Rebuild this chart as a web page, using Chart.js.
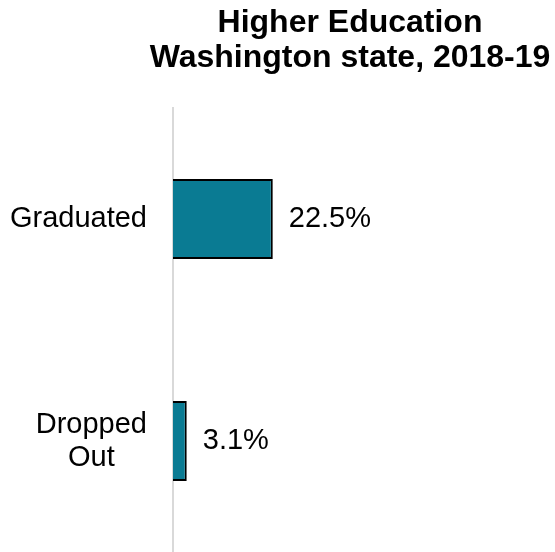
<!DOCTYPE html>
<html>
<head>
<meta charset="utf-8">
<script src="https://cdn.jsdelivr.net/npm/chart.js@4"></script>
<style>
  body { margin: 0; background: #fff; }
  canvas { display: block; }
</style>
</head>
<body>
<canvas id="eduChart" width="555" height="552"></canvas>
<script>
document.addEventListener('DOMContentLoaded', () => {
  // --- Data ---
  const categories = [['Graduated'], ['Dropped', 'Out']];
  const shares = [22.5, 3.1];
  const titleLines = ['Higher Education', 'Washington state, 2018-19'];

  const FONT = '"Liberation Sans", Arial, sans-serif';
  const ctx = document.getElementById('eduChart').getContext('2d');

  // --- Plugins ---
  // two-line bold title, centred over the right part of the canvas
  const titlePlugin = {
    id: 'twoLineTitle',
    afterDraw(chart) {
      const c = chart.ctx;
      c.save();
      c.fillStyle = '#000';
      c.font = 'bold 32px ' + FONT;
      c.textAlign = 'center';
      c.textBaseline = 'alphabetic';
      titleLines.forEach((line, i) => c.fillText(line, 350, 32 + i * 35));
      c.restore();
    }
  };

  // category labels: right-aligned blocks, lines centred within the block
  const categoryLabels = {
    id: 'categoryLabels',
    afterDraw(chart) {
      const c = chart.ctx;
      const yScale = chart.scales.y;
      const right = 147;
      const lineH = 33;
      c.save();
      c.fillStyle = '#000';
      c.font = '29px ' + FONT;
      c.textAlign = 'center';
      c.textBaseline = 'middle';
      categories.forEach((lines, i) => {
        const y = yScale.getPixelForTick(i);
        const widest = Math.max(...lines.map(l => c.measureText(l).width));
        const cx = right - widest / 2;
        const top = y - (lines.length - 1) * lineH / 2;
        lines.forEach((l, j) => c.fillText(l, cx, top + j * lineH));
      });
      c.restore();
    }
  };

  // percentage labels just past the end of each bar
  const valueLabels = {
    id: 'valueLabels',
    afterDatasetsDraw(chart) {
      const c = chart.ctx;
      const meta = chart.getDatasetMeta(0);
      c.save();
      c.fillStyle = '#000';
      c.font = '29px ' + FONT;
      c.textAlign = 'left';
      c.textBaseline = 'middle';
      meta.data.forEach((bar, i) => {
        c.fillText(shares[i].toFixed(1) + '%', bar.x + 16, bar.y);
      });
      c.restore();
    }
  };

  // --- Chart ---
  new Chart(ctx, {
    type: 'bar',
    data: {
      labels: categories,
      datasets: [{
        data: shares,
        backgroundColor: '#0a7b93',
        borderColor: '#000000',
        borderWidth: 2,
        categoryPercentage: 1,
        barPercentage: 0.36
      }]
    },
    options: {
      indexAxis: 'y',
      responsive: false,
      animation: false,
      layout: { padding: { top: 108, right: 5, bottom: 0, left: 0 } },
      plugins: {
        legend: { display: false },
        title: { display: false },
        tooltip: { enabled: false }
      },
      scales: {
        x: {
          display: false,
          min: 0,
          max: 85
        },
        y: {
          grid: { display: false },
          border: { display: true, color: '#d9d9d9', width: 2 },
          ticks: { display: false },
          afterFit(scale) { scale.width = 173; }
        }
      }
    },
    plugins: [titlePlugin, categoryLabels, valueLabels]
  });
});
</script>
</body>
</html>
